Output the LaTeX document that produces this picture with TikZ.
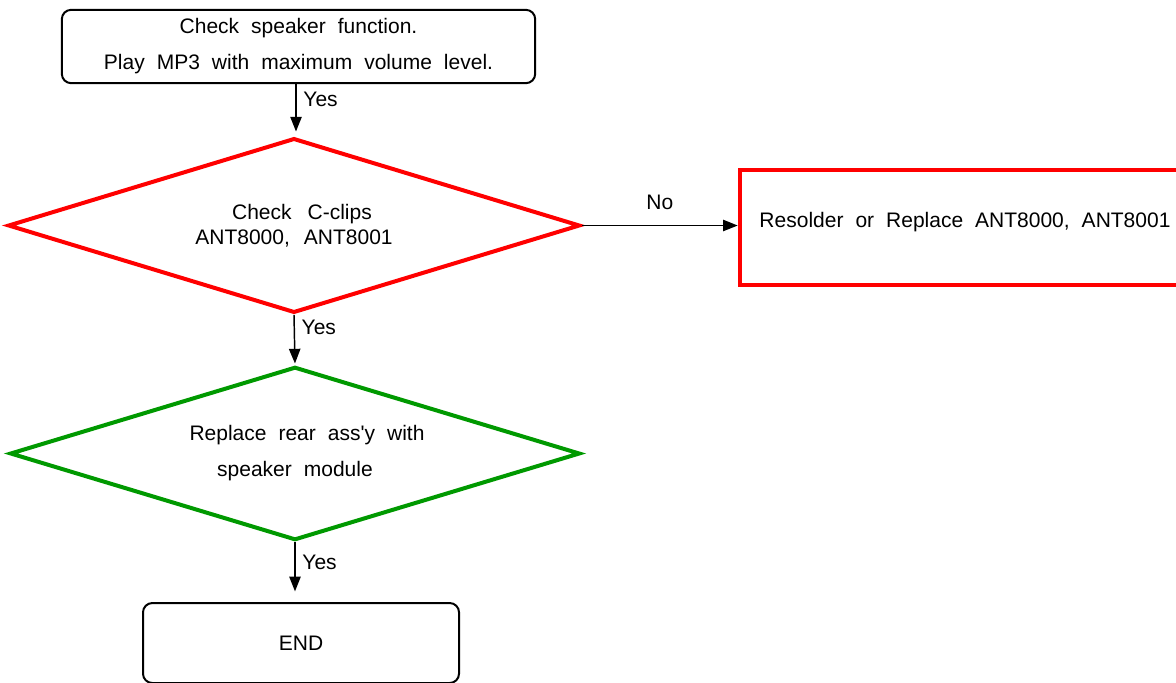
\documentclass[tikz,border=0pt]{standalone}
\usepackage{fontspec}
\setmainfont{Liberation Sans}
\usetikzlibrary{shapes.geometric, arrows.meta, positioning}

\newcommand{\wordgap}[1]{\spaceskip=#1\relax}

\tikzset{
    flowbox/.style={draw=black, line width=1.5pt, rounded corners=7pt, align=center, inner sep=0pt},
    testdia/.style={diamond, aspect=3.27, line width=3pt, align=center, inner sep=0pt},
    flowarrow/.style={draw=black, line width=1.1pt, -{Triangle[length=11pt, width=8.5pt]}},
    flowlabel/.style={inner sep=5pt}
}

\begin{document}
\begin{tikzpicture}[x=0.75pt, y=-0.75pt, font=\fontsize{15.75}{18.75}\selectfont\wordgap{9pt}]
\useasboundingbox (0,0) rectangle (1176,682);

\node[flowbox, minimum width=355pt, minimum height=55pt] (start) at (298.5,46.5)
    {Check speaker function.\\[8.25pt] Play MP3 with maximum volume level.};
\node[testdia, draw=red, minimum width=429pt, minimum height=131pt] (clips) at (294,225.5)
    {\hspace*{12pt}\wordgap{12pt}Check C-clips\\ \wordgap{10.5pt}ANT8000, ANT8001};
\node[draw=red, line width=3pt, minimum width=338pt, minimum height=86pt, inner sep=0pt,
    text height=11pt, text depth=11pt] (resolder) at (965,227.5)
    {Resolder or Replace ANT8000, ANT8001};
\node[testdia, draw=green!60!black, minimum width=427.5pt, minimum height=130pt] (rear) at (295,453.5)
    {\hspace*{18pt}Replace rear ass\textquotesingle y with\\[8.25pt] speaker module};
\node[flowbox, minimum width=237pt, minimum height=60pt] (finish) at (301,643) {END};

\draw[flowarrow, shorten >=3.5pt] (start.south -| 296,0) -- (clips.north -| 296,0)
    node[flowlabel, pos=0.3, right] {Yes};
\draw[flowarrow, shorten >=1pt] (clips.south) -- (rear.north)
    node[flowlabel, pos=0.25, right] {Yes};
\draw[flowarrow] (clips.east) -- (clips.east -| resolder.west)
    node[flowlabel, midway, above=6pt] {No};
\draw[flowarrow, shorten >=8pt] (rear.south) -- (finish.north -| rear.south)
    node[flowlabel, pos=0.33, right] {Yes};

\end{tikzpicture}
\end{document}
